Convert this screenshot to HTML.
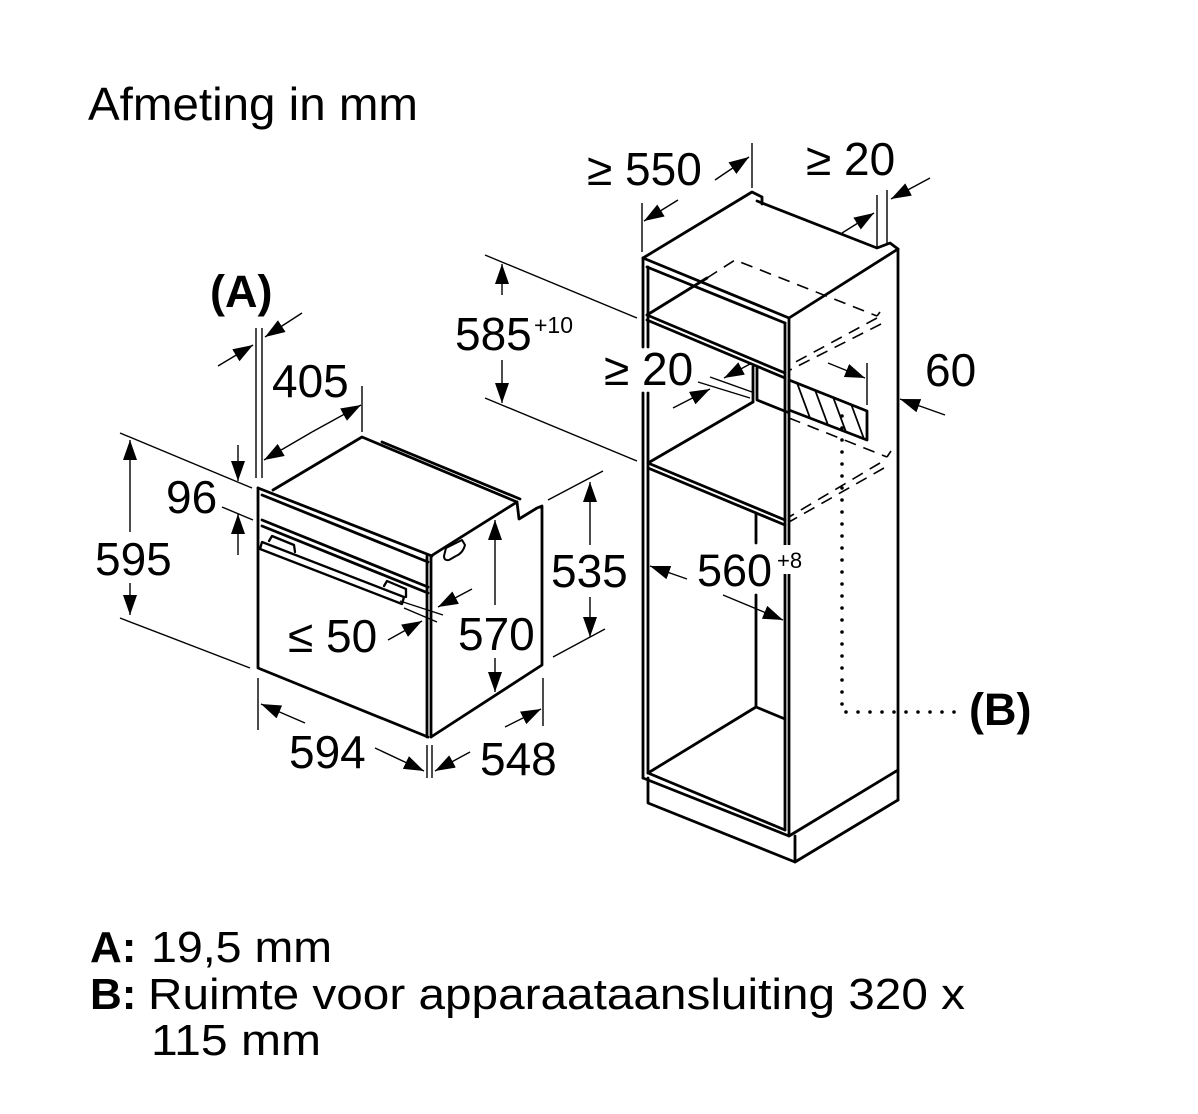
<!DOCTYPE html>
<html><head><meta charset="utf-8"><style>
html,body{margin:0;padding:0;background:#fff;}
svg{display:block;}
text{font-family:"Liberation Sans",Arial,sans-serif;fill:#000;}
</style></head><body>
<svg width="1198" height="1114" viewBox="0 0 1198 1114" xmlns="http://www.w3.org/2000/svg">
<defs>
<marker id="a" viewBox="0 0 20 14" refX="20" refY="7" markerWidth="20" markerHeight="14" markerUnits="userSpaceOnUse" orient="auto"><path d="M0,0 L20,7 L0,14 z" fill="#000"/></marker>
<clipPath id="hc"><polygon points="789,380 867,411 867,440 789,410"/></clipPath>
</defs>
<rect width="1198" height="1114" fill="#fff"/>

<text x="88" y="120" font-size="46" textLength="330" lengthAdjust="spacingAndGlyphs">Afmeting in mm</text>

<!-- OVEN -->
<g stroke="#000" fill="none" stroke-width="2.8" stroke-linejoin="round" stroke-linecap="round">
  <path d="M258,488 L432,556"/>
  <path d="M262,495 L428,562"/>
  <path d="M258,488 L258,668 L428,737"/>
  <path d="M262,520 L428,587"/>
  <path d="M262,526 L428,593"/>
  <path d="M427,556 L427,737"/>
  <path d="M431,556 L431,737"/>
  <path d="M431,556 L517,502 L519,519 L537,508 L542,506 L542,665 L431,737"/>
  <path d="M273,490 L362,437 L517,502"/>
  <path d="M382,442 L520,499"/>
  <path d="M262,542 L404,597 L402,604 L260,549 Z" stroke-width="2.3"/>
  <path d="M269,541 L272,536 L294,545 L295,552" stroke-width="2.3"/>
  <path d="M384,586 L387,581 L406,589 L406,597" stroke-width="2.3"/>
  <path d="M444,556 L446,548 L462,540 L465,545 Q463,553 456,556 L449,560 Q444,561 444,556 Z" stroke-width="2"/>
</g>

<g stroke="#000" fill="none" stroke-width="1.4">
  <line x1="256" y1="328" x2="256" y2="478"/>
  <line x1="262" y1="328" x2="262" y2="478"/>
  <line x1="218" y1="366" x2="253" y2="345" marker-end="url(#a)"/>
  <line x1="302" y1="313" x2="265" y2="337" marker-end="url(#a)"/>
  <line x1="362" y1="386" x2="362" y2="432"/>
  <line x1="312" y1="432" x2="264" y2="460" marker-end="url(#a)"/>
  <line x1="312" y1="432" x2="361" y2="405" marker-end="url(#a)"/>
  <line x1="120" y1="433" x2="252" y2="488"/>
  <line x1="120" y1="618" x2="250" y2="668"/>
  <line x1="222" y1="507" x2="253" y2="520"/>
  <line x1="130" y1="532" x2="130" y2="440" marker-end="url(#a)"/>
  <line x1="130" y1="583" x2="130" y2="615" marker-end="url(#a)"/>
  <line x1="238" y1="445" x2="238" y2="481" marker-end="url(#a)"/>
  <line x1="238" y1="555" x2="238" y2="514" marker-end="url(#a)"/>
  <line x1="495" y1="605" x2="495" y2="520" marker-end="url(#a)"/>
  <line x1="495" y1="658" x2="495" y2="692" marker-end="url(#a)"/>
  <line x1="400" y1="601" x2="443" y2="615"/>
  <line x1="404" y1="608" x2="437" y2="622"/>
  <line x1="388" y1="640" x2="422" y2="621" marker-end="url(#a)"/>
  <line x1="472" y1="589" x2="438" y2="607" marker-end="url(#a)"/>
  <line x1="258" y1="678" x2="258" y2="730"/>
  <line x1="427" y1="745" x2="427" y2="778"/>
  <line x1="305" y1="723" x2="261" y2="704" marker-end="url(#a)"/>
  <line x1="375" y1="748" x2="424" y2="771" marker-end="url(#a)"/>
  <line x1="432" y1="745" x2="432" y2="778"/>
  <line x1="543" y1="678" x2="543" y2="726"/>
  <line x1="470" y1="752" x2="435" y2="771" marker-end="url(#a)"/>
  <line x1="505" y1="727" x2="541" y2="709" marker-end="url(#a)"/>
  <line x1="548" y1="500" x2="603" y2="471"/>
  <line x1="553" y1="657" x2="605" y2="629"/>
  <line x1="590" y1="545" x2="590" y2="482" marker-end="url(#a)"/>
  <line x1="590" y1="597" x2="590" y2="637" marker-end="url(#a)"/>
</g>

<!-- CABINET -->
<g stroke="#000" fill="none" stroke-width="2.8" stroke-linejoin="round" stroke-linecap="round">
  <path d="M643,258 L752,192 L762,197 L762,204"/>
  <path d="M757,201 L877,248 L890,243 L898,249 L789,318 L643,258"/>
  <path d="M647,267 L785,323"/>
  <path d="M643,258 L643,347 M643,393 L643,778"/>
  <path d="M648,267 L648,347 M648,393 L648,773"/>
  <path d="M785,323 L785,830"/>
  <path d="M789,318 L789,836"/>
  <path d="M898,249 L898,800"/>
  <path d="M643,778 L789,836 L898,770"/>
  <path d="M648,773 L785,830"/>
  <path d="M648,778 L648,803 L795,862 L898,800"/>
  <path d="M795,836 L795,862"/>
  <path d="M647,315 L785,373"/>
  <path d="M647,320 L785,378"/>
  <path d="M647,315 L707,278"/>
  <path d="M753,367 L753,402"/>
  <path d="M757,368 L757,400 L787,412"/>
  <path d="M648,463 L753,402"/>
  <path d="M648,463 L785,520"/>
  <path d="M648,468 L785,525"/>
  <path d="M756,513 L756,543 M756,595 L756,707"/>
  <path d="M648,773 L756,707 L785,719"/>
  <polygon points="789,380 867,411 867,440 789,410"/>
</g>
<g stroke="#000" stroke-width="1.8" clip-path="url(#hc)">
  <line x1="793" y1="372" x2="810" y2="418"/>
  <line x1="811" y1="379" x2="828" y2="425"/>
  <line x1="829" y1="386" x2="846" y2="432"/>
  <line x1="847" y1="393" x2="864" y2="439"/>
</g>
<g stroke="#000" fill="none" stroke-width="1.6" stroke-dasharray="12 8">
  <path d="M707,278 L735,260 L877,316"/>
  <path d="M877,318 L790,365"/>
  <path d="M881,324 L790,370"/>
  <path d="M789,418 L887,457"/>
  <path d="M880,463 L789,517"/>
  <path d="M884,468 L789,522"/>
</g>
<path d="M877,316 L880,312 M887,457 L891,451" stroke="#000" stroke-width="1.6" fill="none"/>
<path d="M842,416 L842,712 L962,712" stroke="#000" stroke-width="3.6" stroke-linecap="round" stroke-dasharray="0 12" fill="none"/>

<g stroke="#000" fill="none" stroke-width="1.4">
  <line x1="752" y1="143" x2="752" y2="188"/>
  <line x1="642" y1="203" x2="642" y2="252"/>
  <line x1="715" y1="180" x2="749" y2="157" marker-end="url(#a)"/>
  <line x1="678" y1="200" x2="644" y2="221" marker-end="url(#a)"/>
  <line x1="877" y1="195" x2="877" y2="247"/>
  <line x1="887" y1="190" x2="887" y2="243"/>
  <line x1="842" y1="233" x2="874" y2="213" marker-end="url(#a)"/>
  <line x1="930" y1="178" x2="891" y2="199" marker-end="url(#a)"/>
  <line x1="485" y1="255" x2="637" y2="318"/>
  <line x1="485" y1="398" x2="637" y2="461"/>
  <line x1="502" y1="295" x2="502" y2="264" marker-end="url(#a)"/>
  <line x1="502" y1="360" x2="502" y2="403" marker-end="url(#a)"/>
  <line x1="710" y1="377" x2="752" y2="392"/>
  <line x1="698" y1="382" x2="750" y2="398"/>
  <line x1="750" y1="364" x2="724" y2="378" marker-end="url(#a)"/>
  <line x1="673" y1="408" x2="710" y2="389" marker-end="url(#a)"/>
  <line x1="867" y1="363" x2="867" y2="405"/>
  <line x1="828" y1="363" x2="865" y2="378" marker-end="url(#a)"/>
  <line x1="945" y1="415" x2="900" y2="399" marker-end="url(#a)"/>
  <line x1="687" y1="579" x2="650" y2="566" marker-end="url(#a)"/>
  <line x1="723" y1="595" x2="783" y2="620" marker-end="url(#a)"/>
</g>

<rect x="775" y="545" width="32" height="29" fill="#fff"/>

<g font-size="46">
  <text x="210" y="307" font-weight="bold" font-size="45">(A)</text>
  <text x="272" y="397">405</text>
  <text x="166" y="513">96</text>
  <text x="95" y="575">595</text>
  <text x="288" y="652">≤ 50</text>
  <text x="458" y="650">570</text>
  <text x="551" y="587">535</text>
  <text x="289" y="768">594</text>
  <text x="480" y="775">548</text>
  <text x="587" y="185">≥ 550</text>
  <text x="806" y="175">≥ 20</text>
  <text x="455" y="350">585</text>
  <text x="604" y="385">≥ 20</text>
  <text x="925" y="386">60</text>
  <text x="697" y="586" font-size="45">560</text>
  <text x="969" y="725" font-weight="bold" font-size="45">(B)</text>
</g>
<text x="534" y="333" font-size="23">+10</text>
<text x="777" y="568" font-size="22">+8</text>

<text x="90" y="962" font-size="44" font-weight="bold">A:</text>
<text x="151" y="962" font-size="44" textLength="181" lengthAdjust="spacingAndGlyphs">19,5 mm</text>
<text x="90" y="1009" font-size="44" font-weight="bold">B:</text>
<text x="148" y="1009" font-size="44" textLength="817" lengthAdjust="spacingAndGlyphs">Ruimte voor apparaataansluiting 320 x</text>
<text x="151" y="1055" font-size="44" textLength="170" lengthAdjust="spacingAndGlyphs">115 mm</text>
</svg>
</body></html>
